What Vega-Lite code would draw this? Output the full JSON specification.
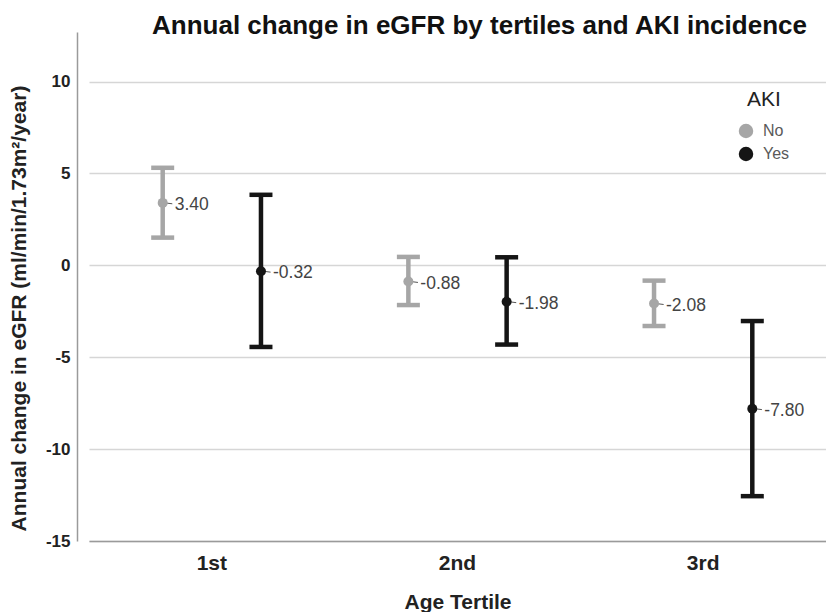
{
  "$schema": "https://vega.github.io/schema/vega-lite/v6.json",
  "autosize": "none",
  "width": 749,
  "height": 509,
  "padding": {"left": 77, "top": 32, "right": 0, "bottom": 71},
  "background": "white",
  "title": {
    "text": "Annual change in eGFR by tertiles and AKI incidence",
    "anchor": "start",
    "frame": "group",
    "dx": 75,
    "offset": 0,
    "baseline": "alphabetic",
    "dy": 28,
    "font": "Liberation Sans",
    "fontSize": 26,
    "fontWeight": "bold",
    "color": "#111111"
  },
  "config": {
    "view": {"stroke": null},
    "font": "Liberation Sans"
  },
  "data": {
    "values": [
      {"tertile": "1st", "aki": "No", "mean": 3.40, "lower": 1.51, "upper": 5.31, "label": "3.40"},
      {"tertile": "1st", "aki": "Yes", "mean": -0.32, "lower": -4.44, "upper": 3.84, "label": "-0.32"},
      {"tertile": "2nd", "aki": "No", "mean": -0.88, "lower": -2.16, "upper": 0.46, "label": "-0.88"},
      {"tertile": "2nd", "aki": "Yes", "mean": -1.98, "lower": -4.31, "upper": 0.44, "label": "-1.98"},
      {"tertile": "3rd", "aki": "No", "mean": -2.08, "lower": -3.30, "upper": -0.83, "label": "-2.08"},
      {"tertile": "3rd", "aki": "Yes", "mean": -7.80, "lower": -12.56, "upper": -3.03, "label": "-7.80"}
    ]
  },
  "encoding": {
    "x": {
      "field": "tertile",
      "type": "nominal",
      "sort": ["1st", "2nd", "3rd"],
      "scale": {"type": "band", "range": [12, 749], "paddingInner": 0, "paddingOuter": 0},
      "axis": {
        "title": "Age Tertile",
        "labelAngle": 0,
        "ticks": false,
        "tickSize": 0,
        "grid": false,
        "domainColor": "#9a9a9a",
        "domainWidth": 1.5,
        "labelFont": "Liberation Sans",
        "labelFontSize": 21,
        "labelFontWeight": "bold",
        "labelColor": "#222222",
        "labelBaseline": "alphabetic",
        "labelPadding": 28,
        "titleFont": "Liberation Sans",
        "titleFontSize": 21,
        "titleFontWeight": "bold",
        "titleColor": "#222222",
        "titleBaseline": "alphabetic",
        "titleY": 67
      }
    },
    "xOffset": {
      "field": "aki",
      "type": "nominal",
      "sort": ["No", "Yes"],
      "scale": {"paddingInner": 0, "paddingOuter": 0.25}
    }
  },
  "layer": [
    {
      "mark": {"type": "rule", "strokeWidth": 4.5, "opacity": 1},
      "encoding": {
        "y": {
          "field": "lower",
          "type": "quantitative",
          "scale": {"domain": [-15, 12.7], "nice": false, "zero": false},
          "axis": {
            "title": "Annual change in eGFR (ml/min/1.73m²/year)",
            "values": [-15, -10, -5, 0, 5, 10],
            "labelExpr": "replace(datum.label, '−', '-')",
            "ticks": false,
            "tickSize": 0,
            "grid": true,
            "gridColor": "#d6d6d6",
            "gridWidth": 1.5,
            "domainColor": "#9a9a9a",
            "domainWidth": 1.5,
            "labelFont": "Liberation Sans",
            "labelFontSize": 17,
            "labelFontWeight": "bold",
            "labelColor": "#222222",
            "labelPadding": 7,
            "titleFont": "Liberation Sans",
            "titleFontSize": 21,
            "titleFontWeight": "bold",
            "titleColor": "#222222",
            "titleBaseline": "alphabetic",
            "titleX": -52,
            "titleY": 276,
            "titleAlign": "center",
            "titleAngle": -90
          }
        },
        "y2": {"field": "upper"},
        "color": {
          "field": "aki",
          "type": "nominal",
          "sort": ["No", "Yes"],
          "scale": {"domain": ["No", "Yes"], "range": ["#a6a6a6", "#151515"]},
          "legend": {
            "title": "AKI",
            "orient": "none",
            "legendX": 661,
            "legendY": 57,
            "padding": 0,
            "symbolType": "circle",
            "symbolSize": 210,
            "symbolOpacity": 1,
            "symbolStrokeWidth": 0,
            "rowPadding": 7,
            "labelOffset": 9,
            "labelFont": "Liberation Sans",
            "labelFontSize": 16,
            "labelColor": "#595959",
            "titleFont": "Liberation Sans",
            "titleFontSize": 21,
            "titleFontWeight": "normal",
            "titleColor": "#222222",
            "titleAnchor": "middle",
            "titlePadding": 13
          }
        }
      }
    },
    {
      "mark": {"type": "tick", "size": 23, "thickness": 4.5, "opacity": 1},
      "encoding": {
        "y": {"field": "lower", "type": "quantitative"},
        "color": {"field": "aki", "type": "nominal", "legend": null}
      }
    },
    {
      "mark": {"type": "tick", "size": 23, "thickness": 4.5, "opacity": 1},
      "encoding": {
        "y": {"field": "upper", "type": "quantitative"},
        "color": {"field": "aki", "type": "nominal", "legend": null}
      }
    },
    {
      "mark": {"type": "point", "shape": "M0.4,0L1.6,0.15", "size": 144, "filled": false, "strokeWidth": 1, "color": "#555555", "opacity": 1},
      "encoding": {
        "y": {"field": "mean", "type": "quantitative"}
      }
    },
    {
      "mark": {"type": "point", "filled": true, "size": 100, "opacity": 1},
      "encoding": {
        "y": {"field": "mean", "type": "quantitative"},
        "color": {"field": "aki", "type": "nominal", "legend": null}
      }
    },
    {
      "mark": {"type": "text", "align": "left", "baseline": "middle", "dx": 12, "dy": 2, "font": "Liberation Sans", "fontSize": 17.5, "color": "#444444"},
      "encoding": {
        "y": {"field": "mean", "type": "quantitative"},
        "text": {"field": "label"}
      }
    }
  ]
}
